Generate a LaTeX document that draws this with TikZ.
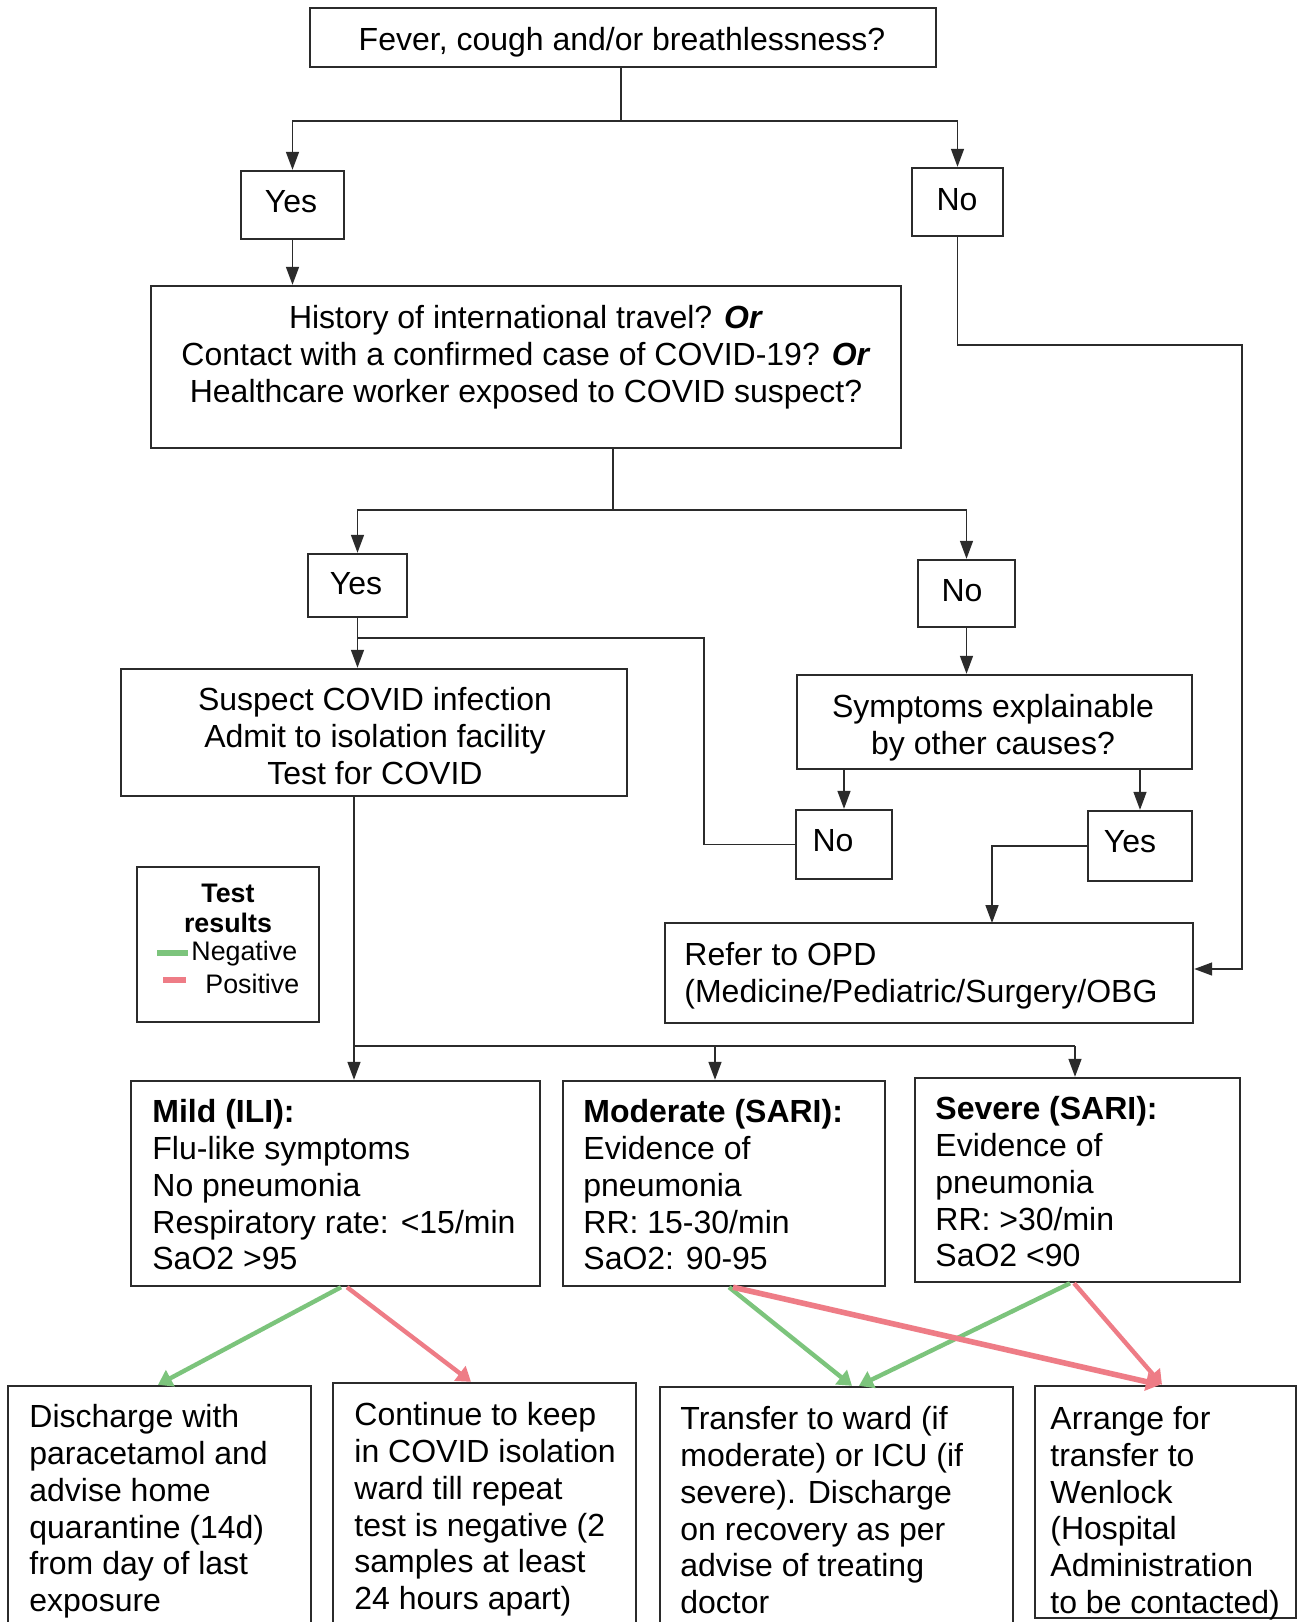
\documentclass[tikz,border=0pt]{standalone}
\usepackage{fontspec}
\setmainfont{Liberation Sans}
\usetikzlibrary{arrows.meta,fit}
\definecolor{ink}{HTML}{2B2B2B}
\definecolor{gline}{HTML}{7CC47C}
\definecolor{rline}{HTML}{EE7C86}
\tikzset{
  boxst/.style={draw=ink, line width=1.2pt, inner sep=0pt},
  txt/.style={inner sep=0pt, font=\fontsize{16}{18.4}\selectfont, text=black},
  legtxt/.style={inner sep=0pt, font=\fontsize{13.4}{15}\selectfont, text=black},
  conn/.style={draw=ink, line width=0.75pt},
  arr/.style={conn, -{Triangle[length=9pt,width=6.5pt]}},
  garr/.style={draw=gline, line width=2.2pt, -{Triangle[length=7pt,width=9pt]}},
  rarr/.style={draw=rline, line width=2.2pt, -{Triangle[length=7pt,width=9pt]}},
}
\begin{document}
\begin{tikzpicture}[x=0.5pt,y=-0.5pt]
\useasboundingbox (0,0) rectangle (1300,1622);
\clip (0,0) rectangle (1300,1622);
\fill[white] (0,0) rectangle (1300,1622);

% ---------- boxes ----------
\node[boxst, fit={(310,8)(936,67)}] (top) {};
\node[txt] (topt) at (622,42) {Fever, cough and/or breathlessness?};

\node[boxst, fit={(241,171)(344,239)}] (yes1) {};
\node[txt] (yes1t) at (291,202) {Yes};
\node[boxst, fit={(912,168)(1003,236)}] (no1) {};
\node[txt] (no1t) at (957,200) {No};

\node[boxst, fit={(151,286)(901,448)}] (box2) {};
\node[txt, align=center, anchor=north] (box2t) at (526,305)
  {History of international travel? \textbf{\textit{Or}}\\
   Contact with a confirmed case of COVID-19? \textbf{\textit{Or}}\\
   Healthcare worker exposed to COVID suspect?};

\node[boxst, fit={(308,554)(407,617)}] (yes2) {};
\node[txt] (yes2t) at (356,584) {Yes};
\node[boxst, fit={(918,560)(1015,627)}] (no2) {};
\node[txt] (no2t) at (962,591) {No};

\node[boxst, fit={(121,669)(627,796)}] (suspect) {};
\node[txt, align=center, anchor=north] (suspectt) at (375,687)
  {Suspect COVID infection\\Admit to isolation facility\\Test for COVID};

\node[boxst, fit={(797,675)(1192,769)}] (symp) {};
\node[txt, align=center, anchor=north] (sympt) at (993,694)
  {Symptoms explainable\\by other causes?};

\node[boxst, fit={(796,810)(892,879)}] (no3) {};
\node[txt] (no3t) at (833,841) {No};
\node[boxst, fit={(1088,811)(1192,881)}] (yes3) {};
\node[txt] (yes3t) at (1130,842) {Yes};

\node[boxst, fit={(665,923)(1193,1023)}] (refer) {};
\node[txt, align=left, anchor=north west] (refert) at (684,942)
  {Refer to OPD\\(Medicine/Pediatric/Surgery/OBG};

% legend
\node[boxst, fit={(137,867)(319,1022)}] (legend) {};
\node[legtxt, font=\fontsize{13.4}{15}\selectfont\bfseries] (legt1) at (228,893) {Test};
\node[legtxt, font=\fontsize{13.4}{15}\selectfont\bfseries] (legt2) at (228,923) {results};
\node[legtxt, anchor=west] (legneg) at (191,954) {Negative};
\node[legtxt, anchor=west] (legpos) at (205,984) {Positive};
\draw[gline, line width=2.6pt] (157,953) -- (188,953);
\draw[rline, line width=2.6pt] (163,980) -- (186,980);

% severity boxes
\node[boxst, fit={(131,1081)(540,1286)}] (mild) {};
\node[txt, align=left, anchor=north west] (mildt) at (152,1099)
  {\textbf{Mild (ILI):}\\Flu-like symptoms\\No pneumonia\\Respiratory rate: <15/min\\SaO2 >95};
\node[boxst, fit={(563,1081)(885,1286)}] (moderate) {};
\node[txt, align=left, anchor=north west] (moderatet) at (583,1099)
  {\textbf{Moderate (SARI):}\\Evidence of\\pneumonia\\RR: 15-30/min\\SaO2: 90-95};
\node[boxst, fit={(915,1078)(1240,1282)}] (severe) {};
\node[txt, align=left, anchor=north west] (severet) at (935,1096)
  {\textbf{Severe (SARI):}\\Evidence of\\pneumonia\\RR: >30/min\\SaO2 <90};

% outcome boxes
\node[boxst, fit={(8,1386)(311,1640)}] (b1) {};
\node[txt, align=left, anchor=north west] (b1t) at (29,1404)
  {Discharge with\\paracetamol and\\advise home\\quarantine (14d)\\from day of last\\exposure};
\node[boxst, fit={(333,1383)(636,1640)}] (b2) {};
\node[txt, align=left, anchor=north west] (b2t) at (354,1402)
  {Continue to keep\\in COVID isolation\\ward till repeat\\test is negative (2\\samples at least\\24 hours apart)};
\node[boxst, fit={(660,1387)(1013,1640)}] (b3) {};
\node[txt, align=left, anchor=north west] (b3t) at (680,1406)
  {Transfer to ward (if\\moderate) or ICU (if\\severe). Discharge\\on recovery as per\\advise of treating\\doctor};
\node[boxst, fit={(1035,1386)(1296,1618)}] (b4) {};
\node[txt, align=left, anchor=north west] (b4t) at (1050,1406)
  {Arrange for\\transfer to\\Wenlock\\(Hospital\\Administration\\to be contacted)};

% ---------- connectors ----------
\coordinate (s1) at (621,121);
\draw[conn] (top.south -| s1) -- (s1);
\draw[arr] (s1) -| (yes1.north);
\draw[arr] (s1) -| (no1.north);
\draw[arr] (yes1.south) -- (yes1.south |- box2.north);

\coordinate (n1a) at (1242,345);
\coordinate (n1b) at (1242,969);
\draw[arr] (no1.south) |- (n1a) -- (n1b) -- (n1b -| refer.east);

\coordinate (s2) at (613,510);
\draw[conn] (box2.south -| s2) -- (s2);
\draw[arr] (s2) -| (yes2.north);
\draw[arr] (s2) -| (no2.north);

\draw[arr] (yes2.south) -- (yes2.south |- suspect.north);
\coordinate (j1) at (357.5,638);
\coordinate (j2) at (704,638);
\draw[conn] (j1) -- (j2) |- (no3.west);

\draw[arr] (no2.south) -- (no2.south |- symp.north);
\draw[arr] (symp.south -| no3.north) -- (no3.north);
\draw[arr] (symp.south -| yes3.north) -- (yes3.north);
\coordinate (rt) at (992,923);
\draw[arr] (yes3.west) -| (rt);

\coordinate (s3) at (354,1046);
\coordinate (s3m) at (715,1046);
\coordinate (s3r) at (1075,1046);
\draw[conn] (suspect.south -| s3) -- (s3) -- (s3r);
\draw[arr] (s3) -- (s3 |- mild.north);
\draw[arr] (s3m) -- (s3m |- moderate.north);
\draw[arr] (s3r) -- (s3r |- severe.north);

% coloured outcome arrows
\coordinate (xg1a) at (341,0);  \coordinate (xg1b) at (158,0);
\coordinate (xr1a) at (347,0);  \coordinate (xr1b) at (471,0);
\coordinate (xg2a) at (729,0);  \coordinate (xg2b) at (852,0);
\coordinate (xr2a) at (733,0);  \coordinate (xr2b) at (1160,0);
\coordinate (xg3a) at (1070,0); \coordinate (xg3b) at (859,0);
\coordinate (xr3a) at (1074,0); \coordinate (xr3b) at (1162,0);
\draw[garr] (mild.south -| xg1a) -- (b1.north -| xg1b);
\draw[rarr] (mild.south -| xr1a) -- (b2.north -| xr1b);
\draw[garr] (moderate.south -| xg2a) -- (b3.north -| xg2b);
\draw[garr] (severe.south -| xg3a) -- (b3.north -| xg3b);
\draw[rarr, line width=2.8pt] (moderate.south -| xr2a) -- (b4.north -| xr2b);
\draw[rarr] (severe.south -| xr3a) -- (b4.north -| xr3b);
\end{tikzpicture}
\end{document}
